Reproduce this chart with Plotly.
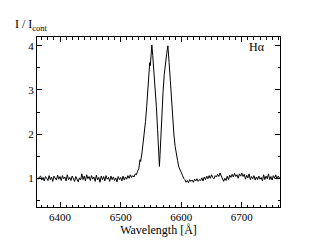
import plotly.graph_objects as go

wave_left = [6362, 6364, 6366, 6368, 6370, 6372, 6374, 6376, 6378, 6380, 6382, 6384, 6386, 6388, 6390,
             6392, 6394, 6396, 6398, 6400, 6402, 6404, 6406, 6408, 6410, 6412, 6414, 6416, 6418, 6420,
             6422, 6424, 6426, 6428, 6430, 6432, 6434, 6436, 6438, 6440, 6442, 6444, 6446, 6448, 6450,
             6452, 6454, 6456, 6458, 6460, 6462, 6464, 6466, 6468, 6470, 6472, 6474, 6476, 6478, 6480,
             6482, 6484, 6486, 6488, 6490, 6492, 6494, 6496, 6498, 6500, 6502, 6504, 6506, 6508, 6510,
             6512, 6514, 6516, 6518]
flux_left = [1.00, 0.98, 1.03, 1.05, 0.96, 1.02, 0.94, 1.04, 1.00, 0.95, 1.06, 0.97, 1.03, 0.93, 1.05,
             1.01, 0.96, 1.07, 0.98, 1.04, 0.95, 1.06, 0.99, 1.03, 0.94, 1.08, 0.97, 1.02, 0.95, 1.05,
             0.99, 0.93, 1.04, 0.98, 0.92, 1.01, 0.96, 1.10, 0.97, 1.05, 0.94, 1.08, 0.99, 1.04, 0.95,
             1.06, 0.98, 1.03, 0.93, 1.07, 0.96, 1.02, 0.91, 1.05, 0.97, 1.04, 0.94, 1.06, 0.98, 1.02,
             0.93, 1.05, 0.97, 1.03, 0.95, 1.01, 0.92, 1.04, 0.97, 1.02, 0.94, 1.05, 0.96, 1.03, 0.98,
             1.06, 1.00, 1.08, 1.02]

wave_line = [6520, 6522, 6524, 6526, 6528, 6530, 6532, 6533, 6535, 6537, 6539, 6541, 6543, 6545, 6547,
             6548, 6549, 6550, 6551.5, 6553, 6555, 6557, 6559, 6561, 6562.5, 6564, 6565, 6566.5, 6568,
             6570, 6572, 6574, 6576, 6578, 6579, 6580, 6582, 6584, 6586, 6588, 6590, 6592, 6594, 6596,
             6598, 6600, 6602, 6604, 6606]
flux_line = [1.06, 1.03, 1.10, 1.08, 1.16, 1.22, 1.42, 1.38, 1.55, 1.78, 2.00, 2.28, 2.62, 2.98, 3.38,
             3.62, 3.55, 3.82, 4.02, 3.78, 3.42, 3.02, 2.62, 2.10, 1.62, 1.27, 1.52, 2.05, 2.50,
             2.95, 3.35, 3.65, 3.82, 4.00, 3.88, 3.62, 3.22, 2.75, 2.32, 1.98, 1.72, 1.52, 1.40, 1.26,
             1.18, 1.12, 1.07, 1.00, 0.97]

wave_right = [6608, 6610, 6612, 6614, 6616, 6618, 6620, 6622, 6624, 6626, 6628, 6630, 6632, 6634, 6636,
              6638, 6640, 6642, 6644, 6646, 6648, 6650, 6652, 6654, 6656, 6658, 6660, 6662, 6664, 6666,
              6668, 6670, 6672, 6674, 6676, 6678, 6680, 6682, 6684, 6686, 6688, 6690, 6692, 6694, 6696,
              6698, 6700, 6702, 6704, 6706, 6708, 6710, 6712, 6714, 6716, 6718, 6720, 6722, 6724, 6726,
              6728, 6730, 6732, 6734, 6736, 6738, 6740, 6742, 6744, 6746, 6748, 6750, 6752, 6754, 6756,
              6758, 6760, 6762, 6764]
flux_right = [0.91, 0.95, 0.90, 0.97, 0.93, 0.96, 0.91, 0.98, 0.94, 0.99, 0.93, 0.97, 0.95, 1.01, 0.94,
              1.03, 0.97, 1.05, 0.99, 1.06, 1.00, 1.08, 1.02, 0.99, 1.06, 1.03, 1.09, 1.04, 1.12, 1.06,
              1.02, 0.93, 1.00, 0.95, 1.05, 0.97, 1.07, 1.02, 1.09, 1.03, 1.11, 1.04, 1.08, 1.00, 1.10,
              1.05, 1.12, 1.04, 1.09, 0.98, 1.07, 1.01, 1.10, 0.97, 1.04, 0.99, 1.06, 0.96, 1.03, 0.97,
              1.05, 0.98, 1.02, 0.94, 1.08, 0.97, 1.05, 0.99, 1.10, 0.97, 1.04, 0.96, 1.06, 1.00, 1.08,
              0.98, 1.05, 1.01, 1.03]

x_ticks = [6400, 6500, 6600, 6700]
y_ticks = [1, 2, 3, 4]

wave = wave_left + wave_line + wave_right
flux = flux_left + flux_line + flux_right

fig = go.Figure(go.Scatter(x=wave, y=flux, mode="lines",
                           line=dict(color="black", width=1), showlegend=False,
                           hoverinfo="skip"))

font = dict(family="Liberation Serif, Times New Roman, serif", size=11, color="black")

fig.update_layout(
    width=316, height=244,
    margin=dict(l=37, r=36, t=37, b=37),
    paper_bgcolor="white", plot_bgcolor="white",
    font=font,
    xaxis=dict(range=[6362, 6763], tickvals=x_ticks, ticks="inside", ticklen=5,
               showline=True, linecolor="black", linewidth=1, mirror="ticks",
               showgrid=False, zeroline=False, tickcolor="black",
               minor=dict(dtick=10, ticks="inside", ticklen=2.5, tickcolor="black", showgrid=False),
               title=dict(text="Wavelength [Å]", font=dict(size=12), standoff=0)),
    yaxis=dict(range=[0.35, 4.2], tickvals=y_ticks, ticks="inside", ticklen=5,
               showline=True, linecolor="black", linewidth=1, mirror="ticks",
               showgrid=False, zeroline=False, tickcolor="black",
               minor=dict(dtick=0.5, ticks="inside", ticklen=2.5, tickcolor="black", showgrid=False)),
    annotations=[
        dict(text="I / I<sub>cont</sub>", xref="paper", yref="paper", x=-0.098, y=1.012,
             xanchor="left", yanchor="bottom", showarrow=False, font=dict(size=12, color="black")),
        dict(text="Hα", xref="paper", yref="paper", x=0.945, y=0.94,
             xanchor="right", yanchor="middle", showarrow=False, font=dict(size=12, color="black")),
    ],
)

fig.write_html("out.html", config={"displayModeBar": False, "staticPlot": True},
               post_script="document.body.style.margin='0';")
